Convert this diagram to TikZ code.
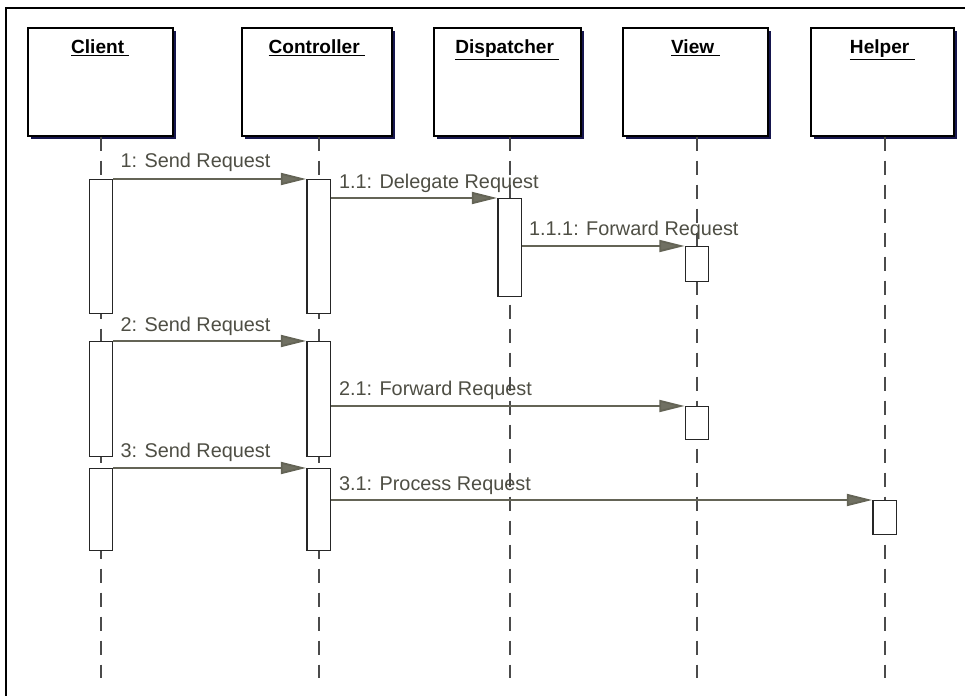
\documentclass[tikz,border=0pt]{standalone}
\usepackage{fontspec}
\setmainfont{Liberation Sans}
\usetikzlibrary{arrows.meta,shadows}
\definecolor{msgline}{RGB}{100,100,86}
\definecolor{msgfill}{RGB}{112,112,98}
\definecolor{msgtext}{RGB}{78,78,68}
\definecolor{shade}{RGB}{22,22,78}
\definecolor{lifegray}{RGB}{75,75,75}
\begin{document}
\begin{tikzpicture}[x=0.75pt,y=-0.75pt,
  frame/.style={draw=black,line width=1.5pt},
  head/.style={draw=black,line width=1.2pt,fill=white,anchor=north west,
    minimum height=81pt,inner sep=0pt,
    drop shadow={shadow xshift=2.25pt,shadow yshift=-2.25pt,fill=shade,opacity=1}},
  title/.style={anchor=base,font=\bfseries\fontsize{14.3pt}{16pt}\selectfont,inner sep=0pt},
  life/.style={draw=lifegray,line width=1.5pt,dash pattern=on 10.5pt off 7.5pt},
  actbar/.style={draw=black!85,line width=1pt,fill=white,anchor=north,
    minimum width=17.5pt,inner sep=0pt},
  msg/.style={draw=msgline,line width=1.4pt,
    -{Triangle[length=19pt,width=9pt,fill=msgfill]}},
  lbl/.style={anchor=base west,text=msgtext,inner sep=0pt,
    font=\fontsize{14.9pt}{16pt}\selectfont}]
\useasboundingbox (0,0) rectangle (965,696);

% outer frame
\draw[frame] (6,700) -- (6,8) -- (970,8);

% object heads
\node[head,minimum width=108.75pt] (hc) at (27,27) {};
\node[head,minimum width=112.5pt]  (hk) at (241,27) {};
\node[head,minimum width=110.25pt] (hd) at (433,27) {};
\node[head,minimum width=108.75pt] (hv) at (622,27) {};
\node[head,minimum width=107.25pt] (hh) at (810,27) {};

\node[title] (tc) at ([yshift=-19.5pt]hc.north) {\underline{Client\ }};
\node[title] (tk) at ([yshift=-19.5pt]hk.north) {\underline{Controller\ }};
\node[title] (td) at ([yshift=-19.5pt]hd.north) {\underline{Dispatcher\ }};
\node[title] (tv) at ([yshift=-19.5pt]hv.north) {\underline{View\ }};
\node[title] (th) at ([yshift=-19.5pt]hh.north) {\underline{Helper\ }};

% lifelines
\coordinate (ec) at (101,678);
\coordinate (ek) at (318.5,678);
\coordinate (ed) at (509.5,678);
\coordinate (ev) at (697,678);
\coordinate (eh) at (884.5,678);
\draw[life] (hc.south -| ec) -- (ec);
\draw[life] (hk.south -| ek) -- (ek);
\draw[life] (hd.south -| ed) -- (ed);
\draw[life] (hv.south -| ev) -- (ev);
\draw[life] (hh.south -| eh) -- (eh);

% activation bars
\node[actbar,minimum height=100.5pt] (bc1) at (101,179) {};
\node[actbar,minimum height=100.5pt] (bk1) at (318.5,179) {};
\node[actbar,minimum height=73.5pt]  (bd)  at (509.5,198) {};
\node[actbar,minimum height=26.25pt] (bv1) at (697,246) {};
\node[actbar,minimum height=86.25pt] (bc2) at (101,341) {};
\node[actbar,minimum height=86.25pt] (bk2) at (318.5,341) {};
\node[actbar,minimum height=24.75pt] (bv2) at (697,406) {};
\node[actbar,minimum height=61.5pt]  (bc3) at (101,468) {};
\node[actbar,minimum height=61.5pt]  (bk3) at (318.5,468) {};
\node[actbar,minimum height=25.5pt]  (bh)  at (884.5,500) {};

% message labels
\node[lbl] (m1)   at ([xshift=5.25pt,yshift=8.5pt]bc1.north east) {1: Send Request};
\node[lbl] (m11)  at ([xshift=6pt,yshift=7.5pt]bk1.east |- bd.north) {1.1: Delegate Request};
\node[lbl] (m111) at ([xshift=5.25pt,yshift=8pt]bd.east |- bv1.north) {1.1.1: Forward Request};
\node[lbl] (m2)   at ([xshift=5.25pt,yshift=7.5pt]bc2.north east) {2: Send Request};
\node[lbl] (m21)  at ([xshift=6pt,yshift=8pt]bk2.east |- bv2.north) {2.1: Forward Request};
\node[lbl] (m3)   at ([xshift=5.25pt,yshift=8pt]bc3.north east) {3: Send Request};
\node[lbl] (m31)  at ([xshift=6pt,yshift=7.5pt]bk3.east |- bh.north) {3.1: Process Request};

% messages
\draw[msg] (bc1.north east) -- (bk1.north west);
\draw[msg] (bk1.east |- bd.north) -- (bd.north west);
\draw[msg] (bd.east |- bv1.north) -- (bv1.north west);
\draw[msg] (bc2.north east) -- (bk2.north west);
\draw[msg] (bk2.east |- bv2.north) -- (bv2.north west);
\draw[msg] (bc3.north east) -- (bk3.north west);
\draw[msg] (bk3.east |- bh.north) -- (bh.north west);
\end{tikzpicture}
\end{document}
